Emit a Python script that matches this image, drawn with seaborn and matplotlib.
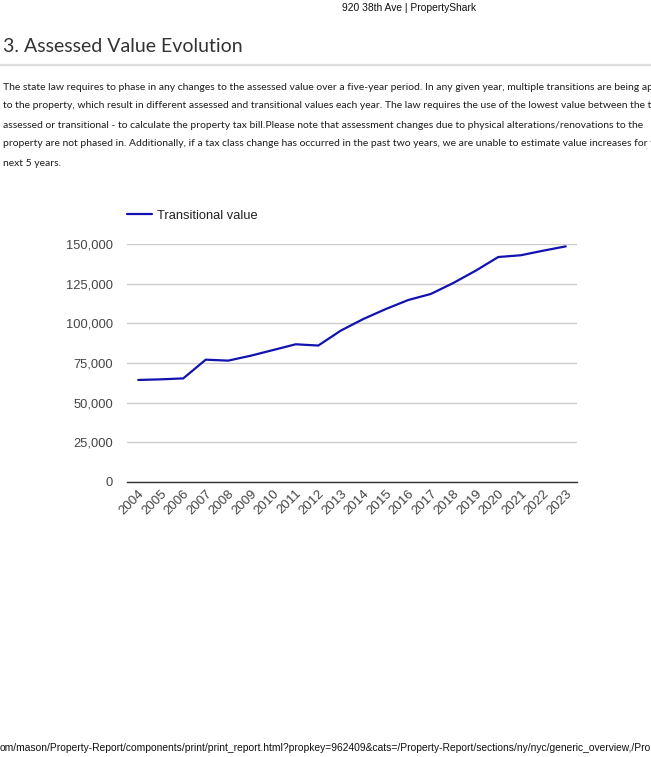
import matplotlib
matplotlib.use("Agg")
import matplotlib.pyplot as plt
import seaborn as sns
import pandas as pd
from matplotlib.ticker import FuncFormatter

# Data
years = [str(y) for y in range(2004, 2024)]
transitional_value = [
    64300, 64700, 65300, 77100, 76500, 79600, 83200, 86800, 86000, 95400,
    102700, 109000, 114700, 118500, 125400, 133200, 141800, 142900, 145800, 148500,
]
y_ticks = [0, 25000, 50000, 75000, 100000, 125000, 150000]

header_text = "920 38th Ave | PropertyShark"
title_text = "3. Assessed Value Evolution"
body_lines = [
    "The state law requires to phase in any changes to the assessed value over a five-year period. In any given year, multiple transitions are being applied",
    "to the property, which result in different assessed and transitional values each year. The law requires the use of the lowest value between the two -",
    "assessed or transitional - to calculate the property tax bill.Please note that assessment changes due to physical alterations/renovations to the",
    "property are not phased in. Additionally, if a tax class change has occurred in the past two years, we are unable to estimate value increases for the",
    "next 5 years.",
]
footer_text = ("om/mason/Property-Report/components/print/print_report.html?propkey=962409"
               "&cats=/Property-Report/sections/ny/nyc/generic_overview,/Property-Report")

LINE_COLOR = "#1212b0"

df = pd.DataFrame({"Year": years, "Transitional value": transitional_value})

sns.set_theme(style="white")
plt.rcParams["font.family"] = ["Liberation Sans", "DejaVu Sans"]

W, H = 651, 757
fig = plt.figure(figsize=(W / 100, H / 100), dpi=100)
fig.patch.set_facecolor("white")


def fx(px):
    return px / W


def fy(py):
    return 1 - py / H


# Page header / title / paragraph
fig.text(fx(409), fy(8), header_text, ha="center", va="center", fontsize=7.4, color="#111111")
fig.text(fx(3), fy(47), title_text, ha="left", va="center", fontsize=14,
         family=["Lato", "DejaVu Sans"], color="#333333")
fig.add_artist(plt.Line2D([0, 1], [fy(65), fy(65)], transform=fig.transFigure,
                          color="#dddddd", linewidth=1.6))
for i, line in enumerate(body_lines):
    fig.text(fx(3), fy(87 + 19 * i), line, ha="left", va="center", fontsize=7.5,
             family=["Lato", "DejaVu Sans"], color="#1e1e1e")
fig.text(fx(0), fy(748), footer_text, ha="left", va="center", fontsize=7.4, color="#111111")

# Chart
ax = fig.add_axes([fx(127), fy(482), fx(577) - fx(127), (482 - 244) / H])
sns.lineplot(data=df, x="Year", y="Transitional value", ax=ax, color=LINE_COLOR,
             linewidth=1.6, label="Transitional value", sort=False)

ax.set_xlim(-0.5, len(years) - 0.5)
ax.set_ylim(0, 150000)
ax.set_yticks(y_ticks)
ax.yaxis.set_major_formatter(FuncFormatter(lambda v, _: f"{int(v):,}"))
ax.grid(axis="y", color="#cccccc", linewidth=1)
ax.set_axisbelow(True)
for side in ["top", "right", "left"]:
    ax.spines[side].set_visible(False)
ax.spines["bottom"].set_color("#333333")
ax.spines["bottom"].set_linewidth(1)
ax.tick_params(axis="y", length=0, pad=10, labelsize=9.3, labelcolor="#444444")
ax.tick_params(axis="x", length=0, pad=4, labelsize=9.5, labelcolor="#444444")
plt.setp(ax.get_xticklabels(), rotation=45, ha="right", rotation_mode="anchor")
ax.set_xlabel("")
ax.set_ylabel("")

ax.legend(loc="center left", bbox_to_anchor=(0, 1.118), frameon=False, fontsize=9.3,
          handlelength=1.9, handletextpad=0.4, borderpad=0, borderaxespad=0,
          labelcolor="#222222")

fig.savefig("out.png", dpi=100)
